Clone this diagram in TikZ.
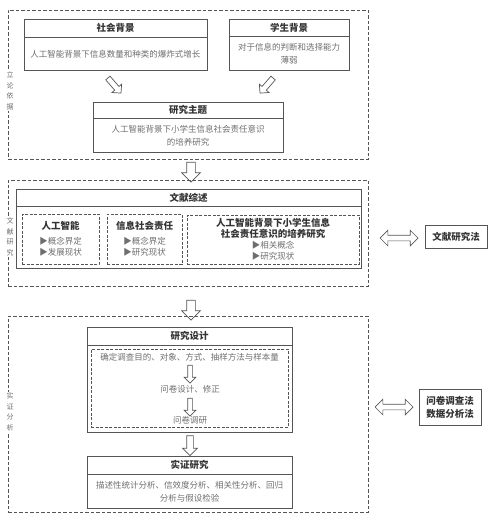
\documentclass[tikz,border=0pt]{standalone}
\usepackage{fontspec}
\setmainfont{Noto Sans CJK SC}
\usepackage{tikz}
\usetikzlibrary{shapes, arrows, positioning}
\definecolor{linea}{HTML}{555555}
\definecolor{texto}{HTML}{6E6E6E}
\definecolor{oscuro}{HTML}{333333}
\tikzstyle{panel} = [draw=linea, dash pattern=on 3.5pt off 2pt, line width=0.8pt, rectangle]
\tikzstyle{subpanel} = [draw=linea, dash pattern=on 3pt off 1.5pt, line width=0.8pt, rectangle, align=center, text=texto, font=\fontsize{8.5}{11}\selectfont]
\tikzstyle{heading} = [draw=linea, line width=0.8pt, rectangle, text=oscuro, font=\fontsize{9.5}{11}\selectfont\bfseries]
\tikzstyle{content} = [draw=linea, line width=0.8pt, rectangle, align=center, text=texto, font=\fontsize{8.5}{12.5}\selectfont]
\tikzstyle{plain} = [inner sep=1pt, text=texto, font=\fontsize{8.5}{11}\selectfont]
\tikzstyle{sidelabel} = [fill=white, inner sep=1pt, align=center, text=texto, font=\fontsize{7}{10.5}\selectfont]
\tikzstyle{method} = [draw=linea, line width=0.8pt, rectangle, align=center, text=oscuro, font=\fontsize{9.5}{13}\selectfont\bfseries]
\tikzstyle{blockarrow} = [single arrow, draw=linea, fill=white, line width=0.7pt, single arrow head indent=0pt]
\tikzstyle{bigarrow} = [blockarrow, rotate=-90, minimum height=20, inner sep=4pt, single arrow head extend=5pt]
\tikzstyle{midarrow} = [blockarrow, rotate=-90, minimum height=20, inner sep=3pt, single arrow head extend=4pt]
\tikzstyle{smallarrow} = [blockarrow, rotate=-90, minimum height=18, inner sep=2pt, single arrow head extend=3.5pt]
\tikzstyle{slantarrow} = [blockarrow, minimum height=20, inner sep=2.5pt, single arrow head extend=3.5pt]
\tikzstyle{twoway} = [double arrow, draw=linea, fill=white, line width=0.7pt, minimum height=38, inner sep=2.5pt, double arrow head extend=5pt, double arrow head indent=0pt]

\begin{document}
\begin{tikzpicture}[x=1pt,y=-1pt]
	\useasboundingbox (0,0) rectangle (488,522);
	\node[panel, minimum width=360, minimum height=149] (lunju) at (188,84.5) {};
	\node[sidelabel] (lunjulabel) at (10,91) {立\\论\\依\\据};
	\node[heading, minimum width=183, minimum height=18] (shehui) at (115.5,28) {社会背景};
	\node[content, minimum width=183, minimum height=33, below=0pt of shehui] (shehuitext) {人工智能背景下信息数量和种类的爆炸式增长};
	\node[heading, minimum width=120, minimum height=17] (xuesheng) at (289,27.5) {学生背景};
	\node[content, minimum width=120, minimum height=34, below=0pt of xuesheng] (xueshengtext) {对于信息的判断和选择能力\\薄弱};
	\node[slantarrow, rotate=-49] (flecha1) at (113.5,84.5) {};
	\node[slantarrow, rotate=-131] (flecha2) at (267.5,84.5) {};
	\node[heading, minimum width=190, minimum height=16] (zhuti) at (188,110) {研究主题};
	\node[content, minimum width=190, minimum height=34, below=0pt of zhuti] (zhutitext) {人工智能背景下小学生信息社会责任意识\\的培养研究};
	\node[bigarrow] (flecha3) at (191,170) {};

	\node[panel, minimum width=360, minimum height=106] (wenxian) at (188,233) {};
	\node[sidelabel] (wenxianlabel) at (10,237) {文\\献\\研\\究};
	\node[heading, minimum width=345, minimum height=17] (zongshu) at (188.5,197.5) {文献综述};
	\node[content, minimum width=345, minimum height=62, below=0pt of zongshu] (zongshubody) {};
	\node[subpanel, minimum width=77, minimum height=50] (rengong) at (60.5,239) {{\fontsize{9.5}{11}\selectfont\bfseries\color{oscuro}人工智能}\\[4pt]▶概念界定\\▶发展现状};
	\node[subpanel, minimum width=75, minimum height=50] (zeren) at (144.5,239) {{\fontsize{9.5}{11}\selectfont\bfseries\color{oscuro}信息社会责任}\\[4pt]▶概念界定\\▶研究现状};
	\node[subpanel, minimum width=172, minimum height=49] (peiyang) at (273,239.5) {{\fontsize{9.5}{12}\selectfont\bfseries\color{oscuro}人工智能背景下小学生信息}\\{\fontsize{9.5}{12}\selectfont\bfseries\color{oscuro}社会责任意识的培养研究}\\▶相关概念\\▶研究现状};
	\node[twoway] (flecha4) at (399,238) {};
	\node[method, minimum width=62, minimum height=23] (wenxianfa) at (456,236.5) {文献研究法};
	\node[bigarrow] (flecha5) at (191,308) {};

	\node[panel, minimum width=360, minimum height=196] (shizheng) at (188,414) {};
	\node[sidelabel] (shizhenglabel) at (10,412) {实\\证\\分\\析};
	\node[heading, minimum width=205, minimum height=18] (sheji) at (189.5,336) {研究设计};
	\node[content, minimum width=205, minimum height=87, below=0pt of sheji] (shejibody) {};
	\node[subpanel, minimum width=197, minimum height=78] (liucheng) at (189.5,388) {};
	\node[plain] (mudi) at (189.5,357) {确定调查目的、对象、方式、抽样方法与样本量};
	\node[smallarrow] (flecha6) at (190,373) {};
	\node[plain] (xiuzheng) at (190,389) {问卷设计、修正};
	\node[smallarrow] (flecha7) at (190,406) {};
	\node[plain] (diaoyan) at (190,420) {问卷调研};
	\node[midarrow] (flecha8) at (190,444) {};
	\node[heading, minimum width=205, minimum height=18] (yanjiu) at (189.5,465) {实证研究};
	\node[content, minimum width=205, minimum height=34, below=0pt of yanjiu] (fenxi) {描述性统计分析、信效度分析、相关性分析、回归\\分析与假设检验};
	\node[twoway] (flecha9) at (394,407) {};
	\node[method, minimum width=62, minimum height=36] (diaochafa) at (450,407) {问卷调查法\\数据分析法};
\end{tikzpicture}
\end{document}
